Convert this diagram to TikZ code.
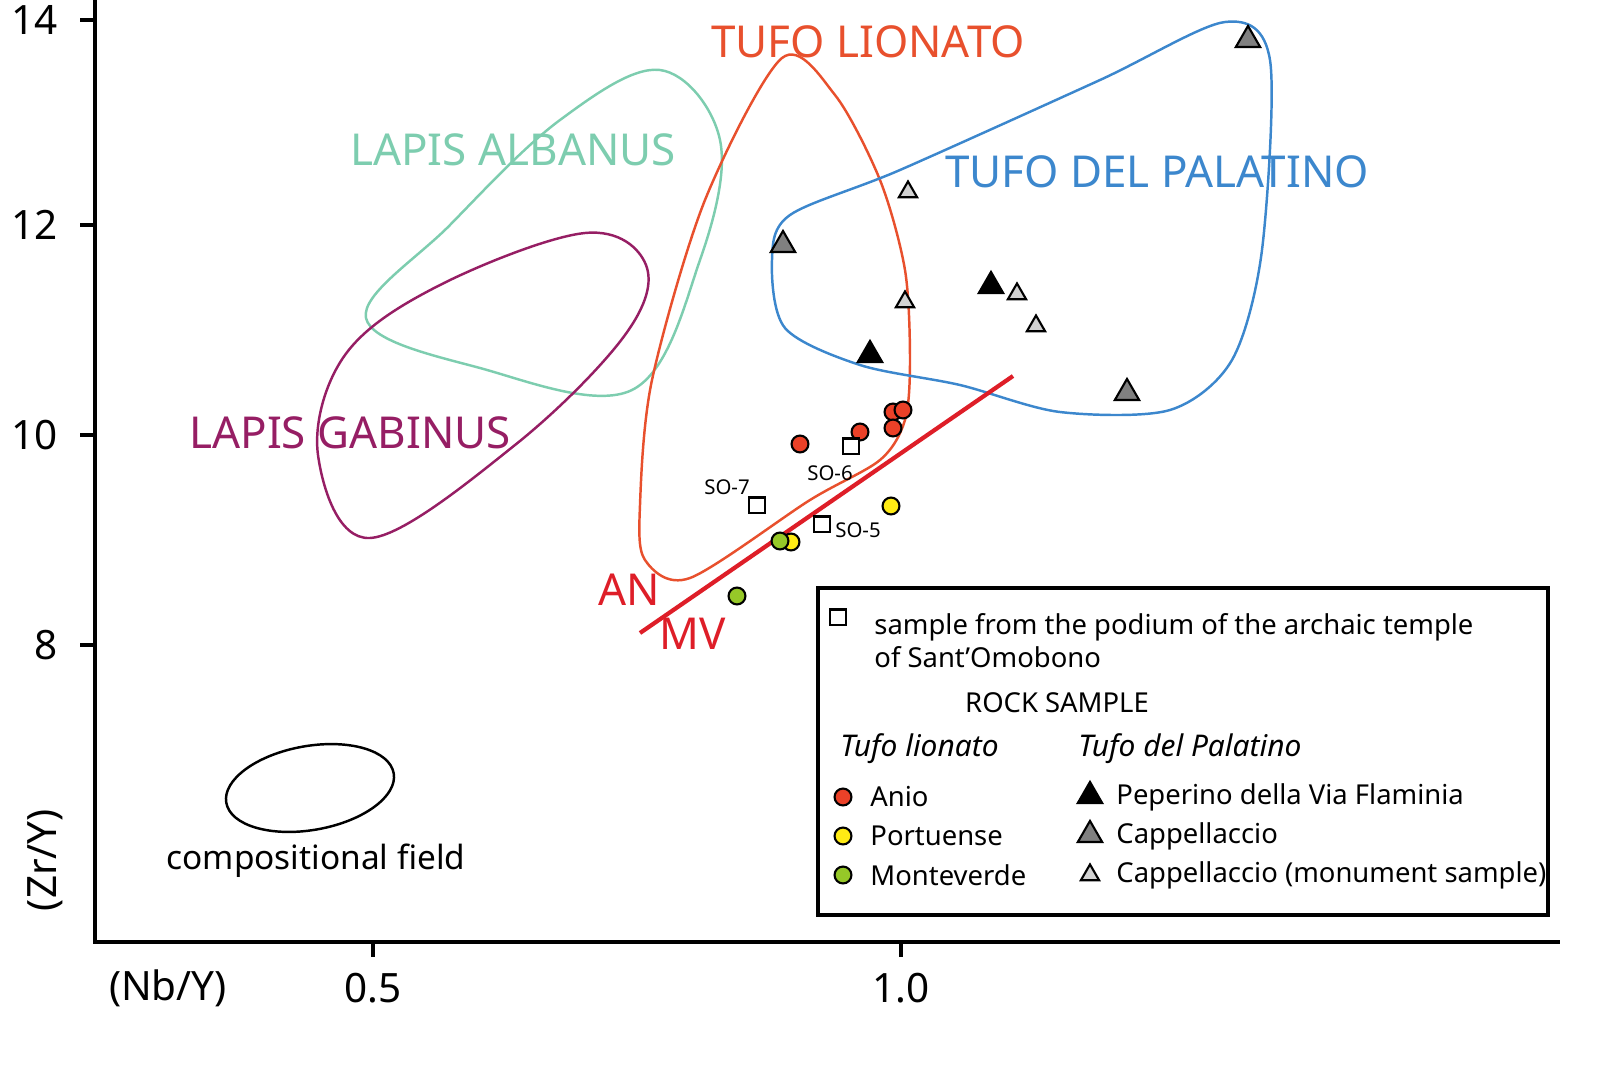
\documentclass[tikz,border=0pt]{standalone}
\usepackage{fontspec}
\setmainfont{Noto Sans}
\usetikzlibrary{shapes.geometric}
\definecolor{alb}{RGB}{125,205,175}
\definecolor{gab}{RGB}{150,30,100}
\definecolor{lio}{RGB}{232,80,45}
\definecolor{pal}{RGB}{60,135,205}
\definecolor{rl}{RGB}{222,30,40}
\definecolor{anio}{RGB}{235,65,40}
\definecolor{port}{RGB}{255,235,20}
\definecolor{mont}{RGB}{150,200,40}
\begin{document}
\begin{tikzpicture}[x=0.01cm,y=-0.01cm,
 big/.style={font=\fontsize{12.5}{14}\selectfont},
 leg/.style={font=\fontsize{7.8}{9.5}\selectfont, anchor=west},
 tick/.style={font=\fontsize{11.5}{13}\selectfont},
 dot/.style={circle,draw=black,line width=0.6pt,inner sep=0pt,minimum size=4.8pt},
 sq/.style={rectangle,draw=black,line width=0.6pt,fill=white,inner sep=0pt,minimum size=4.3pt},
 tri/.style={regular polygon,regular polygon sides=3,draw=black,line width=0.6pt,inner sep=0pt,minimum size=8pt},
 stri/.style={regular polygon,regular polygon sides=3,draw=black,line width=0.6pt,inner sep=0pt,minimum size=6pt,fill=gray!35}]
\useasboundingbox (0,0) rectangle (1623,1066);
% axes
\draw[line width=1pt] (95,0) -- (95,942) -- (1560,942);
\foreach \y/\l in {20/14,225/12,435/10,645/8}{\draw[line width=1pt] (80,\y)--(95,\y); \node[tick,anchor=east] at (70,\y) {\l};}
\foreach \x/\l in {373/0.5,901/1.0}{\draw[line width=1pt] (\x,942)--(\x,957); \node[tick] at (\x,988) {\l};}
\node[tick] (nby) at (168,988) {(Nb/Y)};
\node[tick,rotate=90] (zry) at (45,860) {(Zr/Y)};
% fields
\draw[alb,line width=0.7pt] plot[smooth cycle,tension=0.6] coordinates {(366,318)(450,225)(560,120)(660,70)(720,140)(700,260)(632,390)(480,368)};
\draw[gab,line width=0.7pt] plot[smooth cycle,tension=0.6] coordinates {(318,455)(345,355)(440,285)(585,233)(646,265)(625,335)(515,445)(370,538)};
\draw[lio,line width=0.7pt] plot[smooth cycle,tension=0.5] coordinates {(640,505)(652,380)(705,200)(782,58)(835,95)(880,180)(905,270)(910,360)(905,420)(880,460)(810,500)(690,578)(645,560)};
\draw[pal,line width=0.7pt] plot[smooth cycle,tension=0.5] coordinates {(790,215)(900,170)(1100,80)(1225,22)(1270,60)(1262,250)(1232,360)(1170,410)(1060,412)(960,385)(860,365)(785,328)(772,260)};
\draw[line width=0.7pt,rotate around={10:(310,788)}] (310,788) ellipse (85 and 42);
\coordinate (l1) at (640,633); \coordinate (l2) at (1013,376);
\draw[rl,line width=1.2pt] (l1) -- (l2);
% labels
\node[big,alb] (tla) at (513,150) {LAPIS ALBANUS};
\node[big,gab] (tlg) at (350,433) {LAPIS GABINUS};
\node[big,lio] (ttl) at (868,42) {TUFO LIONATO};
\node[big,pal] (ttp) at (1157,172) {TUFO DEL PALATINO};
\node[big,rl] (an) at (629,590) {AN};
\node[big,rl] (mv) at (693,634) {MV};
\node[font=\fontsize{9.5}{11}\selectfont] (cf) at (316,861) {compositional field};
% data
\foreach \p in {(800,444),(860,432),(893,412),(903,410),(893,428)} \node[dot,fill=anio] at \p {};
\foreach \p in {(791,542),(891,506)} \node[dot,fill=port] at \p {};
\foreach \p in {(780,541),(737,596)} \node[dot,fill=mont] at \p {};
\node[sq] (s7) at (757,505) {}; \node[font=\fontsize{5.8}{7}\selectfont] at (727,487) {SO-7};
\node[sq] (s6) at (851,446) {}; \node[font=\fontsize{5.8}{7}\selectfont] at (830,473) {SO-6};
\node[sq] (s5) at (822,524) {}; \node[font=\fontsize{5.8}{7}\selectfont] at (858,530) {SO-5};
\foreach \p in {(870,355),(991,286)} \node[tri,fill=black] at \p {};
\foreach \p in {(783,245),(1248,40),(1127,393)} \node[tri,fill=gray] at \p {};
\foreach \p in {(908,192),(905,302),(1017,294),(1036,326)} \node[stri] at \p {};
% legend
\draw[line width=1.2pt] (818,588) rectangle (1548,915);
\node[sq] at (838,617) {};
\node[leg,align=left,anchor=north west] at (862,601) {sample from the podium of the archaic temple\\of Sant'Omobono};
\node[font=\fontsize{7.8}{9}\selectfont] at (1057,703) {ROCK SAMPLE};
\node[leg,font=\fontsize{8.5}{10}\selectfont\itshape] at (828,749) {Tufo lionato};
\node[leg,font=\fontsize{8.5}{10}\selectfont\itshape] at (1066,749) {Tufo del Palatino};
\node[dot,fill=anio] at (843,797) {}; \node[leg] at (858,797) {Anio};
\node[dot,fill=port] at (843,836) {}; \node[leg] at (858,836) {Portuense};
\node[dot,fill=mont] at (843,875) {}; \node[leg] at (858,875) {Monteverde};
\node[tri,fill=black] at (1090,796) {}; \node[leg] at (1104,797) {Peperino della Via Flaminia};
\node[tri,fill=gray] at (1090,835) {}; \node[leg] at (1104,836) {Cappellaccio};
\node[stri] at (1090,875) {}; \node[leg] at (1104,875) {Cappellaccio (monument sample)};
\end{tikzpicture}
\end{document}
